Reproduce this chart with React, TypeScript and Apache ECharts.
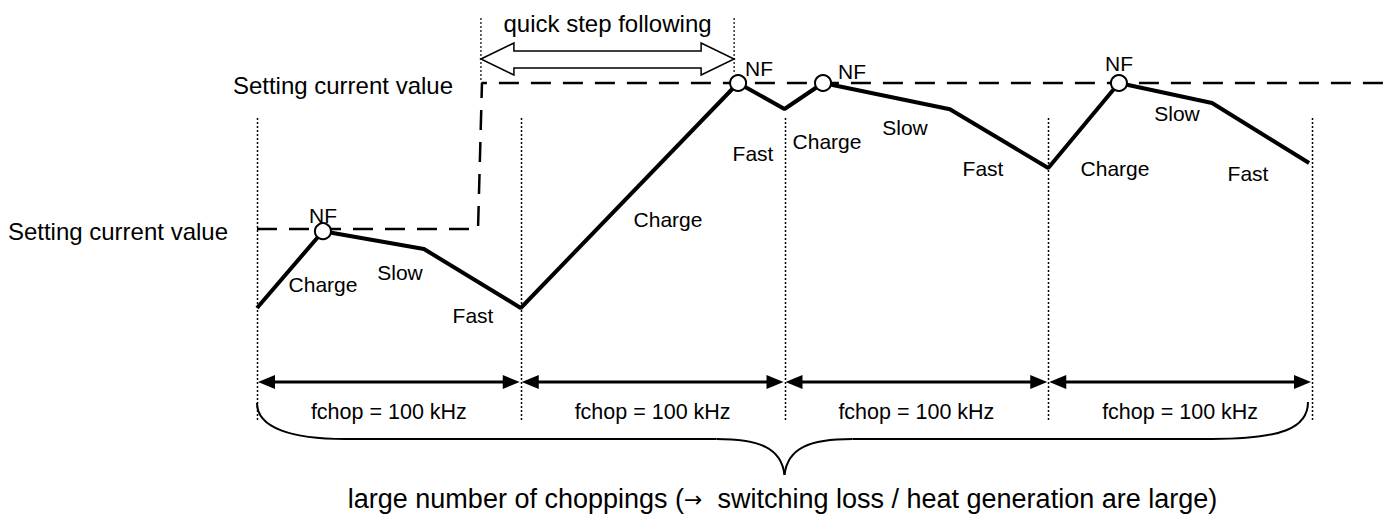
import React, { useEffect, useRef } from "react";
import * as echarts from "echarts";

const FONT = "'Liberation Sans', Arial, Helvetica, sans-serif";

// Time axis in µs (fchop = 100 kHz -> one chop every 10 µs); current in units of the first setting value.
const periodBounds = [0, 10, 20, 30, 40];
const periodLabels = ["fchop = 100 kHz", "fchop = 100 kHz", "fchop = 100 kHz", "fchop = 100 kHz"];

// Motor current waveform (Charge -> NF -> Slow -> Fast ...)
const waveT = [0, 2.5, 6.33, 10, 18.24, 20, 21.46, 26.27, 30, 32.68, 36.21, 39.89];
const waveI = [0.459, 0.985, 0.863, 0.459, 2.0, 1.822, 2.0, 1.82, 1.418, 2.0, 1.863, 1.452];
const nfIndex = [1, 4, 6, 9];

// Setting current value (step)
const settingT = [0, 8.38, 8.53, 43];
const settingI = [1, 1, 2, 2];

// "quick step following" span
const quickT = [8.49, 18.09];

const settingLabel = "Setting current value";
const quickLabel = "quick step following";
const bottomLabel = "large number of choppings ({arr|\u2192}  switching loss / heat generation are large)";

// label layout (pixels)
const segLabels = [
  { text: "Charge", x: 323, y: 284 },
  { text: "Slow", x: 400, y: 272 },
  { text: "Fast", x: 473, y: 315 },
  { text: "Charge", x: 668, y: 219 },
  { text: "Fast", x: 753, y: 153 },
  { text: "Charge", x: 827, y: 141 },
  { text: "Slow", x: 905, y: 127 },
  { text: "Fast", x: 983, y: 168 },
  { text: "Charge", x: 1115, y: 168 },
  { text: "Slow", x: 1177, y: 113 },
  { text: "Fast", x: 1248, y: 173 },
];
const nfLabelPos = [
  { x: 323, y: 215 },
  { x: 759, y: 68 },
  { x: 852, y: 71 },
  { x: 1119, y: 63 },
];

export default function App() {
  const ref = useRef<HTMLDivElement>(null);

  useEffect(() => {
    document.body.style.margin = "0";
    const chart = echarts.init(ref.current!, null, { renderer: "svg" });
    const xMin = -257 / 26.375;
    const xMax = (1385 - 257) / 26.375;
    const yMax = 1 + 229 / 146;
    const yMin = 1 - 291 / 146;
    chart.setOption({
      animation: false,
      backgroundColor: "#ffffff",
      grid: { left: 0, right: 0, top: 0, bottom: 0 },
      xAxis: { type: "value", min: xMin, max: xMax, show: false },
      yAxis: { type: "value", min: yMin, max: yMax, show: false },
      series: [
        {
          type: "line",
          data: settingT.map((t, i) => [t, settingI[i]]),
          symbol: "none",
          lineStyle: { color: "#000", width: 2.5, type: [20, 12] },
          z: 2,
        },
        {
          type: "line",
          data: waveT.map((t, i) => [t, waveI[i]]),
          symbol: "none",
          lineStyle: { color: "#000", width: 4 },
          z: 3,
        },
        {
          type: "scatter",
          data: nfIndex.map((k) => [waveT[k], waveI[k]]),
          symbol: "circle",
          symbolSize: 16,
          itemStyle: { color: "#fff", borderColor: "#000", borderWidth: 2, opacity: 1 },
          z: 4,
        },
      ],
    });

    const X = (t: number) => chart.convertToPixel({ xAxisIndex: 0 }, t) as number;
    const txt = (text: string, x: number, y: number, size: number, align = "center") => ({
      type: "text",
      x,
      y,
      z: 10,
      style: { text, fontSize: size, fontFamily: FONT, fill: "#000", align, verticalAlign: "middle" },
    });
    const g: any[] = [];

    // dotted period boundaries
    periodBounds.forEach((b) => {
      const x = Math.round(X(b)) + 0.5;
      g.push({
        type: "line",
        shape: { x1: x, y1: 118, x2: x, y2: 422 },
        style: { stroke: "#000", lineWidth: 1.5, lineDash: [2, 2] },
      });
    });

    // quick step following
    const q1 = X(quickT[0]);
    const q2 = X(quickT[1]);
    g.push({
      type: "line",
      shape: { x1: q1, y1: 18, x2: q1, y2: 82 },
      style: { stroke: "#000", lineWidth: 1.2, lineDash: [2, 2] },
    });
    g.push({
      type: "line",
      shape: { x1: q2, y1: 18, x2: q2, y2: 72 },
      style: { stroke: "#000", lineWidth: 1.2, lineDash: [2, 2] },
    });
    g.push({
      type: "polygon",
      shape: {
        points: [
          [q1, 59], [q1 + 33, 43], [q1 + 33, 51], [q2 - 33, 51], [q2 - 33, 43],
          [q2, 59], [q2 - 33, 75], [q2 - 33, 68], [q1 + 33, 68], [q1 + 33, 75],
        ],
      },
      style: { fill: "#fff", stroke: "#000", lineWidth: 1.5 },
      z: 5,
    });
    g.push(txt(quickLabel, (q1 + q2) / 2, 23, 24));

    // period double arrows and labels
    for (let i = 0; i < periodBounds.length - 1; i++) {
      const x1 = X(periodBounds[i]);
      const x2 = X(periodBounds[i + 1]);
      const y = 382;
      g.push({
        type: "line",
        shape: { x1: x1 + 12, y1: y, x2: x2 - 12, y2: y },
        style: { stroke: "#000", lineWidth: 3 },
      });
      g.push({
        type: "polygon",
        shape: { points: [[x1 + 1, y], [x1 + 18, y - 7], [x1 + 18, y + 7]] },
        style: { fill: "#000" },
      });
      g.push({
        type: "polygon",
        shape: { points: [[x2 - 1, y], [x2 - 18, y - 7], [x2 - 18, y + 7]] },
        style: { fill: "#000" },
      });
      g.push(txt(periodLabels[i], (x1 + x2) / 2, 412, 21.5));
    }

    // brace
    const bL = X(periodBounds[0]);
    const bR = X(periodBounds[periodBounds.length - 1]);
    const bM = X((periodBounds[0] + periodBounds[periodBounds.length - 1]) / 2);
    const braceStyle = { stroke: "#000", lineWidth: 2, fill: "none" };
    g.push({
      type: "bezierCurve",
      shape: { x1: bL, y1: 403, cpx1: bL, cpy1: 428, cpx2: bL + 35, cpy2: 439, x2: bL + 88, y2: 439 },
      style: braceStyle,
    });
    g.push({ type: "line", shape: { x1: bL + 88, y1: 439, x2: bM - 68, y2: 439 }, style: braceStyle });
    g.push({
      type: "bezierCurve",
      shape: { x1: bM - 68, y1: 439, cpx1: bM - 25, cpy1: 439, cpx2: bM - 3, cpy2: 448, x2: bM, y2: 475 },
      style: braceStyle,
    });
    g.push({
      type: "bezierCurve",
      shape: { x1: bM, y1: 475, cpx1: bM + 3, cpy1: 448, cpx2: bM + 25, cpy2: 439, x2: bM + 68, y2: 439 },
      style: braceStyle,
    });
    g.push({ type: "line", shape: { x1: bM + 68, y1: 439, x2: bR - 100, y2: 439 }, style: braceStyle });
    g.push({
      type: "bezierCurve",
      shape: { x1: bR - 100, y1: 439, cpx1: bR - 30, cpy1: 439, cpx2: bR - 4, cpy2: 428, x2: bR - 4, y2: 402 },
      style: braceStyle,
    });
    g.push({
      type: "text",
      x: bM - 2,
      y: 499,
      z: 10,
      style: {
        text: bottomLabel,
        fontSize: 27,
        fontFamily: FONT,
        fill: "#000",
        align: "center",
        verticalAlign: "middle",
        rich: { arr: { fontFamily: "'DejaVu Sans', sans-serif", fontSize: 22, fill: "#000" } },
      },
    });

    // setting labels
    g.push(txt(settingLabel, 453, 85, 24, "right"));
    g.push(txt(settingLabel, 228, 231, 24, "right"));

    // segment labels
    segLabels.forEach((s) => g.push(txt(s.text, s.x, s.y, 21)));
    nfLabelPos.forEach((p) => g.push(txt("NF", p.x, p.y, 21)));

    chart.setOption({ graphic: g });
    return () => chart.dispose();
  }, []);

  return <div ref={ref} style={{ width: 1385, height: 520 }} />;
}
